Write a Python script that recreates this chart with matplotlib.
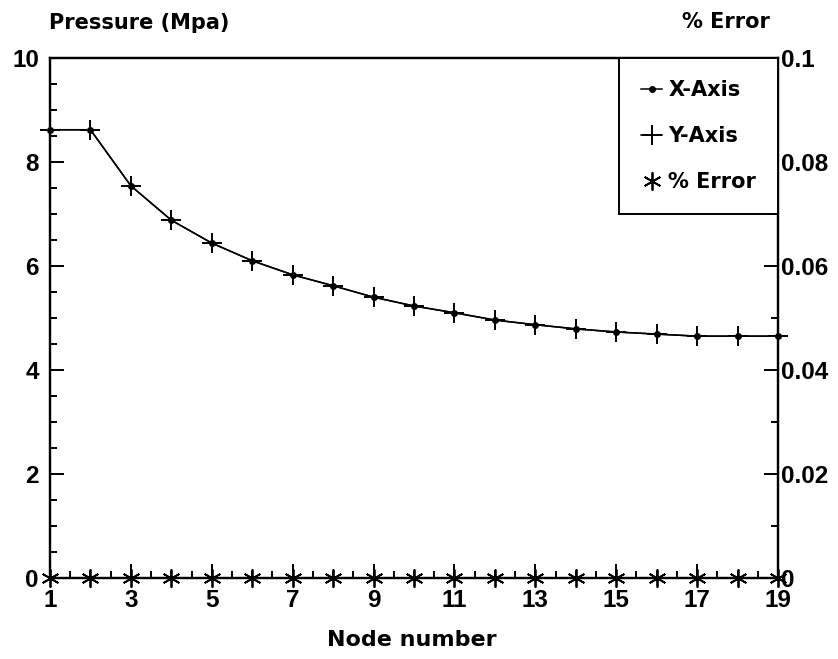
import matplotlib.pyplot as plt
from matplotlib.ticker import MultipleLocator, FixedLocator, FormatStrFormatter

# values
nodes = list(range(1, 20))
pressure_x = [8.62, 8.62, 7.54, 6.88, 6.44, 6.10, 5.83, 5.62, 5.40, 5.23,
              5.10, 4.96, 4.87, 4.79, 4.73, 4.69, 4.65, 4.65, 4.65]
pressure_y = [8.62, 8.62, 7.54, 6.88, 6.44, 6.10, 5.83, 5.62, 5.40, 5.23,
              5.10, 4.96, 4.87, 4.79, 4.73, 4.69, 4.65, 4.65, 4.65]
pct_error = [0.0] * 19
x_ticks = [1, 3, 5, 7, 9, 11, 13, 15, 17, 19]

plt.rcParams['font.family'] = ['Liberation Sans', 'DejaVu Sans']
plt.rcParams['font.weight'] = 'bold'
label_font = dict(family='DejaVu Sans', weight='bold')

fig = plt.figure(figsize=(8.38, 6.59), dpi=100)
ax = fig.add_axes([0.0597, 0.123, 0.8687, 0.789])
ax2 = ax.twinx()

l1, = ax.plot(nodes, pressure_x, color='black', lw=1.1, marker='o', ms=4,
              label='X-Axis', clip_on=False, zorder=3)
l2, = ax.plot(nodes, pressure_y, color='black', lw=1.1, marker='+', ms=14,
              mew=1.4, label='Y-Axis', clip_on=False, zorder=3)
l3, = ax2.plot(nodes, pct_error, color='black', lw=0, marker=(6, 2, 0), ms=13,
               mew=1.3, label='% Error', clip_on=False, zorder=4)

ax.set_xlim(1, 19)
ax.set_ylim(0, 10)
ax2.set_ylim(0, 0.1)

ax.xaxis.set_major_locator(FixedLocator(x_ticks))
ax.xaxis.set_minor_locator(MultipleLocator(0.5))
ax.yaxis.set_major_locator(MultipleLocator(2))
ax.yaxis.set_minor_locator(MultipleLocator(0.5))
ax2.yaxis.set_major_locator(MultipleLocator(0.02))
ax2.yaxis.set_minor_locator(MultipleLocator(0.01))
ax.yaxis.set_major_formatter(FormatStrFormatter('%g'))
ax2.yaxis.set_major_formatter(FormatStrFormatter('%g'))

for a in (ax, ax2):
    for s in a.spines.values():
        s.set_linewidth(1.6)
    a.tick_params(which='both', direction='in', width=1.4, labelsize=17.5)
    a.tick_params(which='major', length=10)
    a.tick_params(which='minor', length=5)
ax.tick_params(axis='x', pad=8, top=False)
ax.tick_params(axis='y', pad=8, right=False)
ax2.tick_params(axis='y', pad=2)

fig.text(0.492, 0.029, 'Node number', fontsize=16, ha='center', va='center',
         **label_font)
fig.text(0.058, 0.965, 'Pressure (Mpa)', fontsize=15, ha='left',
         va='center', **label_font)
fig.text(0.919, 0.967, '% Error', fontsize=15, ha='right', va='center',
         **label_font)

leg = ax2.legend(handles=[l1, l2, l3], loc='upper right', bbox_to_anchor=(1, 1),
                 borderaxespad=0, fancybox=False, framealpha=1,
                 edgecolor='black', handlelength=1.0, handletextpad=0.3,
                 labelspacing=1.25, borderpad=1.05,
                 prop=dict(family='DejaVu Sans', weight='bold', size=15))
leg.get_frame().set_linewidth(1.4)

fig.savefig('out.png', dpi=100)
